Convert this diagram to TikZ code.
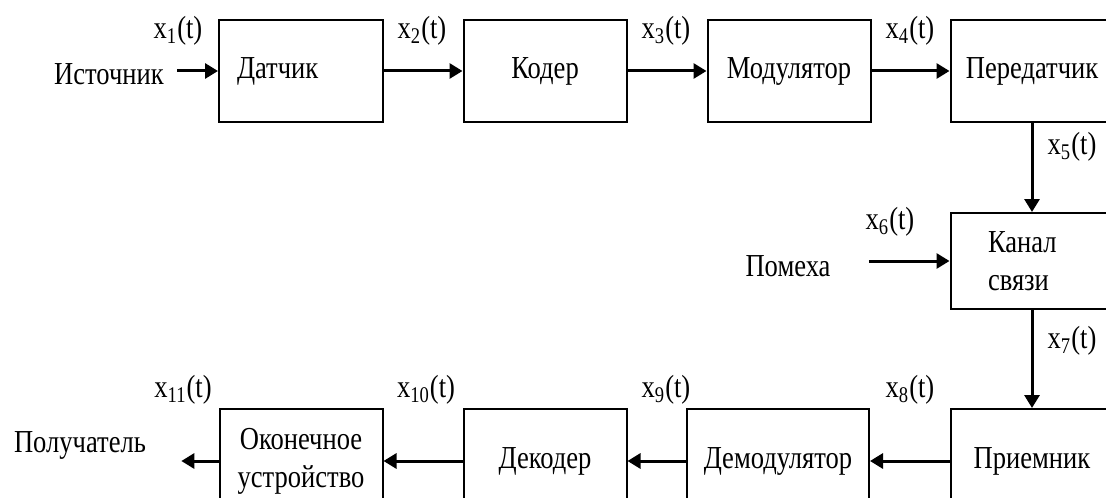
\documentclass[tikz,border=0pt]{standalone}
\usepackage{fontspec}
\setmainfont[FakeStretch=0.83]{Liberation Serif}
\usetikzlibrary{arrows.meta}

\begin{document}
\begin{tikzpicture}
  [x=0.5pt,y=-0.5pt,font=\fontsize{16}{19}\selectfont,
   block/.style={draw,line width=1pt,minimum width=81.5pt,minimum height=51pt,inner sep=0pt,align=center},
   sig/.style={line width=1.5pt,-{Triangle[length=6.5pt,width=7.5pt]}},
   lbl/.style={inner sep=0pt}]
  \useasboundingbox (0,0) rectangle (1106,497);
  \clip (0,0) rectangle (1106,497);
  % top row
  \node[lbl] (src) at (109,74) {Источник};
  \node[block,text width=64pt,inner xsep=9pt,align=left] (dat) at (301,71) {Датчик};
  \node[block] (cod) at (545,71) {Кодер};
  \node[block] (mod) at (789,71) {Модулятор};
  \node[block] (tx) at (1032,71) {Передатчик};
  % channel
  \node[block,minimum height=48pt,text width=44pt,inner xsep=18pt,align=left] (ch) at (1032,261) {Канал\\связи};
  \node[lbl] (noise) at (788,266) {Помеха};
  % bottom row
  \node[block,minimum height=52pt] (rx) at (1032,461) {Приемник};
  \node[block,minimum height=52pt,minimum width=91pt] (dem) at (778,461) {Демодулятор};
  \node[block,minimum height=52pt] (dec) at (545,461) {Декодер};
  \node[block,minimum height=52pt] (term) at (301,461) {Оконечное\\устройство};
  \node[lbl] (dst) at (80,445) {Получатель};
  % signal labels
  \node[lbl] (x1) at (178,31) {x\textsubscript{1}(t)};
  \node[lbl] (x2) at (422,31) {x\textsubscript{2}(t)};
  \node[lbl] (x3) at (666,31) {x\textsubscript{3}(t)};
  \node[lbl] (x4) at (910,31) {x\textsubscript{4}(t)};
  \node[lbl] (x5) at (1072,147) {x\textsubscript{5}(t)};
  \node[lbl] (x6) at (890,222) {x\textsubscript{6}(t)};
  \node[lbl] (x7) at (1072,341) {x\textsubscript{7}(t)};
  \node[lbl] (x8) at (910,390) {x\textsubscript{8}(t)};
  \node[lbl] (x9) at (666,390) {x\textsubscript{9}(t)};
  \node[lbl] (x10) at (426,390) {x\textsubscript{10}(t)};
  \node[lbl] (x11) at (183,390) {x\textsubscript{11}(t)};
  % forward path
  \draw[sig,shorten <=6.5pt] (src.east |- dat.west) -- (dat.west);
  \draw[sig] (dat) -- (cod);
  \draw[sig] (cod) -- (mod);
  \draw[sig] (mod) -- (tx);
  \draw[sig] (tx) -- (ch);
  \draw[sig,shorten <=19pt] (noise.east |- ch.west) -- (ch.west);
  \draw[sig] (ch) -- (rx);
  % return path
  \draw[sig] (rx) -- (dem);
  \draw[sig] (dem) -- (dec);
  \draw[sig] (dec) -- (term);
  \draw[sig,shorten >=17.5pt] (term.west) -- (dst.east |- term.west);
\end{tikzpicture}
\end{document}
